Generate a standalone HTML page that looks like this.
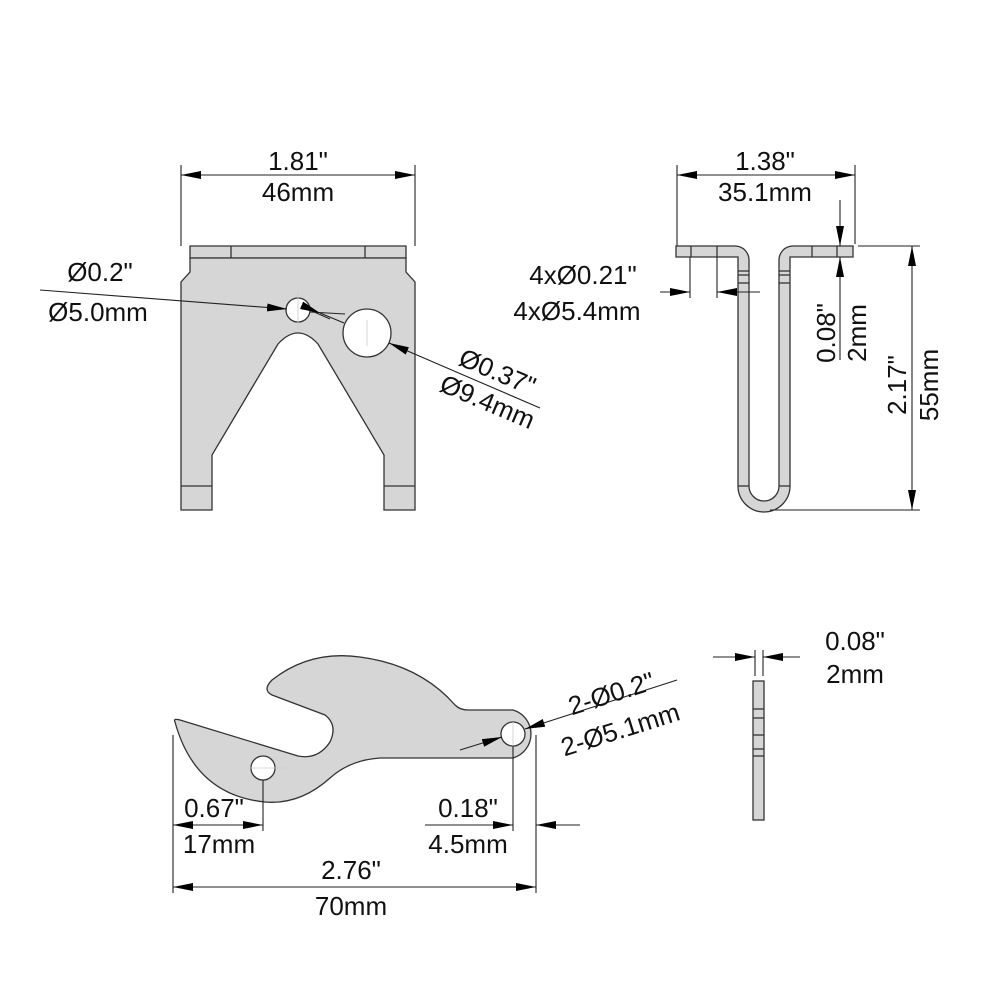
<!DOCTYPE html>
<html><head><meta charset="utf-8"><style>
html,body{margin:0;padding:0;background:#fff}
svg{display:block}
text{font-family:"Liberation Sans",Arial,sans-serif;font-size:26px;fill:#111}
</style></head><body>
<svg width="1000" height="1000" viewBox="0 0 1000 1000" xmlns="http://www.w3.org/2000/svg">
<defs>
<marker id="a" viewBox="0 0 20 8" refX="20" refY="4" markerWidth="20" markerHeight="8" markerUnits="userSpaceOnUse" orient="auto"><path d="M0,0 L20,4 L0,8 z" fill="#000"/></marker>
</defs>
<g stroke="#333" stroke-width="1.3" fill="#d6d6d6">
<path d="M190,246 H406 V258 H190 Z"/>
<path d="M190,258 H406 V272 L415,282 V510 H384 V455 L318,344 Q298,322 278,344 L212,455 V510 H181 V282 L190,272 Z"/>
<line x1="231" y1="246" x2="231" y2="258"/><line x1="365" y1="246" x2="365" y2="258"/>
<line x1="181" y1="486" x2="212" y2="486"/><line x1="384" y1="486" x2="415" y2="486"/>
<circle cx="298" cy="310" r="12" fill="#fff"/>
<circle cx="367" cy="333" r="24" fill="#fff"/>
<path d="M676,246 H735 A14,14 0 0 1 749,260 V486 A15,15 0 0 0 779,486 V260 A14,14 0 0 1 793,246 H853 V257 H790 V486 A26,26 0 0 1 738,486 V257 H676 Z"/>
<line x1="691" y1="246" x2="691" y2="257"/><line x1="717" y1="246" x2="717" y2="257"/>
<line x1="812" y1="246" x2="812" y2="257"/><line x1="837" y1="246" x2="837" y2="257"/>
<line x1="738" y1="271" x2="749" y2="271"/><line x1="738" y1="275" x2="749" y2="275"/><line x1="738" y1="283" x2="749" y2="283"/>
<line x1="779" y1="271" x2="790" y2="271"/><line x1="779" y1="275" x2="790" y2="275"/><line x1="779" y1="283" x2="790" y2="283"/>
<line x1="738" y1="486" x2="749" y2="486"/><line x1="779" y1="486" x2="790" y2="486"/>
<path d="M175,722 Q173,718 180,720 L298,756 Q318,760 330,742 Q338,725 325,715 L272,695 Q262,690 272,680 Q310,650 360,657 Q420,665 455,705 Q460,710 468,710 H513 A25,25 0 0 1 513,758 H380 Q350,760 330,778 Q300,805 265,802 Q195,795 175,722 Z"/>
<circle cx="263" cy="768" r="12" fill="#fff"/>
<circle cx="513" cy="734" r="12" fill="#fff"/>
<rect x="753" y="681" width="11" height="139"/>
<line x1="753" y1="709" x2="764" y2="709"/><line x1="753" y1="718" x2="764" y2="718"/><line x1="753" y1="735" x2="764" y2="735"/><line x1="753" y1="749" x2="764" y2="749"/><line x1="753" y1="756" x2="764" y2="756"/>
</g>
<g stroke="#ccc" stroke-width="0.8" fill="none">
<line x1="298" y1="290" x2="298" y2="330"/><line x1="367" y1="320" x2="367" y2="346"/>
<line x1="245" y1="768" x2="285" y2="768"/><line x1="513" y1="722" x2="513" y2="746"/>
</g>
<g stroke="#222" stroke-width="1.1" fill="none">
<line x1="181" y1="165" x2="181" y2="246"/><line x1="415" y1="165" x2="415" y2="246"/>
<line x1="298" y1="175" x2="181" y2="175" marker-end="url(#a)"/><line x1="298" y1="175" x2="415" y2="175" marker-end="url(#a)"/>
<line x1="40" y1="290" x2="287" y2="309" marker-end="url(#a)"/>
<line x1="310" y1="312" x2="345" y2="314"/>
<line x1="540" y1="408" x2="389" y2="343" marker-end="url(#a)"/>
<line x1="330" y1="319" x2="312" y2="311"/>
<line x1="320" y1="313" x2="344" y2="323" marker-start="url(#a)"/>
<line x1="677" y1="165" x2="677" y2="246"/><line x1="855" y1="165" x2="855" y2="244"/>
<line x1="765" y1="175" x2="677" y2="175" marker-end="url(#a)"/><line x1="765" y1="175" x2="855" y2="175" marker-end="url(#a)"/>
<line x1="690" y1="257" x2="690" y2="298"/><line x1="717" y1="257" x2="717" y2="298"/>
<line x1="660" y1="292" x2="690" y2="292" marker-end="url(#a)"/><line x1="760" y1="292" x2="717" y2="292" marker-end="url(#a)"/>
<line x1="840" y1="200" x2="840" y2="246" marker-end="url(#a)"/>
<line x1="840" y1="360" x2="840" y2="257" marker-end="url(#a)"/>
<line x1="858" y1="246" x2="920" y2="246"/><line x1="770" y1="510" x2="920" y2="510"/>
<line x1="912" y1="380" x2="912" y2="246" marker-end="url(#a)"/><line x1="912" y1="380" x2="912" y2="510" marker-end="url(#a)"/>
<line x1="173" y1="735" x2="173" y2="893"/><line x1="263" y1="780" x2="263" y2="831"/>
<line x1="513" y1="746" x2="513" y2="831"/><line x1="536" y1="735" x2="536" y2="893"/>
<line x1="218" y1="825" x2="173" y2="825" marker-end="url(#a)"/><line x1="218" y1="825" x2="263" y2="825" marker-end="url(#a)"/>
<line x1="425" y1="825" x2="513" y2="825" marker-end="url(#a)"/><line x1="580" y1="825" x2="536" y2="825" marker-end="url(#a)"/>
<line x1="351" y1="887" x2="173" y2="887" marker-end="url(#a)"/><line x1="351" y1="887" x2="536" y2="887" marker-end="url(#a)"/>
<line x1="460" y1="750" x2="502" y2="737" marker-end="url(#a)"/>
<line x1="677" y1="680" x2="525" y2="729" marker-end="url(#a)"/>
<line x1="755" y1="650" x2="755" y2="676"/><line x1="763" y1="650" x2="763" y2="676"/>
<line x1="713" y1="657" x2="755" y2="657" marker-end="url(#a)"/><line x1="800" y1="657" x2="763" y2="657" marker-end="url(#a)"/>
</g>
<g text-anchor="middle">
<text x="298" y="170">1.81"</text><text x="298" y="201">46mm</text>
<text x="100" y="281">Ø0.2"</text><text x="98" y="321">Ø5.0mm</text>
<text x="765" y="170">1.38"</text><text x="765" y="201">35.1mm</text>
<text x="583" y="284">4xØ0.21"</text><text x="577" y="320">4xØ5.4mm</text>
<text x="214" y="817">0.67"</text><text x="219" y="853">17mm</text>
<text x="468" y="817">0.18"</text><text x="468" y="853">4.5mm</text>
<text x="351" y="879">2.76"</text><text x="351" y="915">70mm</text>
<text x="855" y="650">0.08"</text><text x="855" y="683">2mm</text>
<text transform="translate(494,380) rotate(23)">Ø0.37"</text>
<text transform="translate(484,410) rotate(23)">Ø9.4mm</text>
<text transform="translate(614,702) rotate(-17.5)">2-Ø0.2"</text>
<text transform="translate(623,738) rotate(-17.5)">2-Ø5.1mm</text>
<text transform="translate(835,333) rotate(-90)">0.08"</text>
<text transform="translate(866,333) rotate(-90)">2mm</text>
<text transform="translate(906,385) rotate(-90)">2.17"</text>
<text transform="translate(938,385) rotate(-90)">55mm</text>
</g>
</svg>
</body></html>
